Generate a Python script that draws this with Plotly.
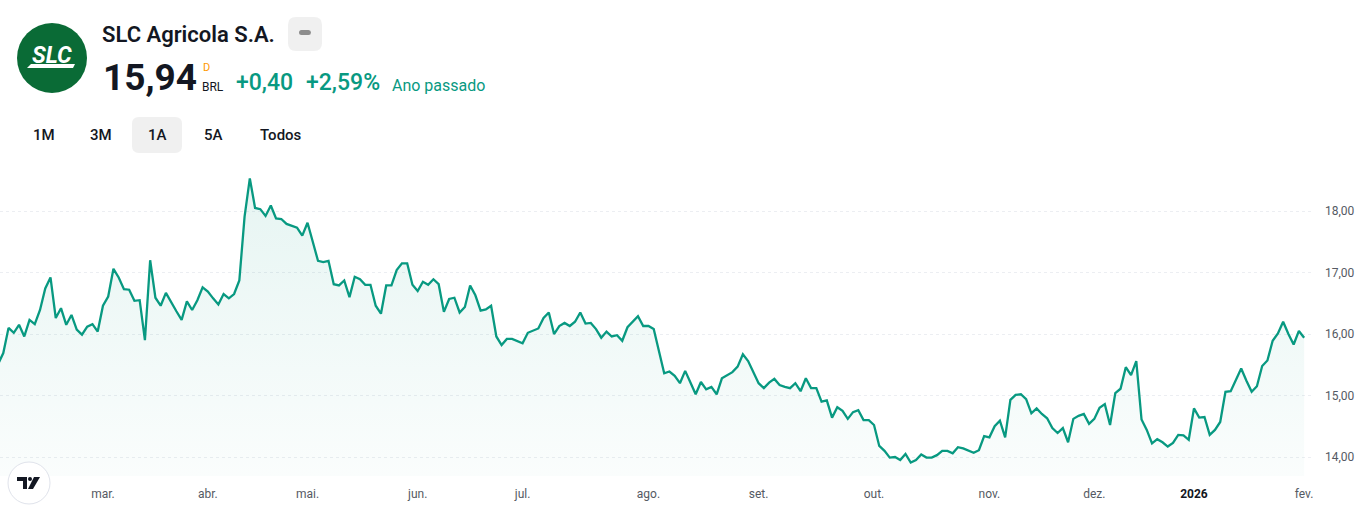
import plotly.graph_objects as go

# ---------------- data ----------------
close = [
    15.51, 15.69, 16.10, 16.02, 16.15, 15.96, 16.23, 16.16, 16.39, 16.74,
    16.92, 16.26, 16.42, 16.15, 16.31, 16.07, 15.99, 16.12, 16.16, 16.04,
    16.46, 16.61, 17.06, 16.92, 16.73, 16.72, 16.54, 16.55, 15.90, 17.20,
    16.59, 16.46, 16.67, 16.51, 16.37, 16.23, 16.53, 16.39, 16.55, 16.76,
    16.69, 16.58, 16.48, 16.65, 16.58, 16.65, 16.87, 17.91, 18.53, 18.05,
    18.03, 17.92, 18.09, 17.88, 17.87, 17.79, 17.76, 17.73, 17.60, 17.81,
    17.50, 17.19, 17.17, 17.19, 16.81, 16.79, 16.87, 16.60, 16.93, 16.89,
    16.80, 16.80, 16.46, 16.33, 16.79, 16.79, 17.04, 17.15, 17.15, 16.80,
    16.70, 16.85, 16.80, 16.89, 16.81, 16.36, 16.57, 16.59, 16.35, 16.44,
    16.79, 16.63, 16.38, 16.40, 16.46, 15.96, 15.82, 15.92, 15.92, 15.89,
    15.85, 16.02, 16.05, 16.09, 16.26, 16.35, 16.00, 16.13, 16.18, 16.13,
    16.20, 16.35, 16.17, 16.18, 16.08, 15.94, 16.04, 15.96, 15.98, 15.89,
    16.11, 16.20, 16.29, 16.13, 16.13, 16.08, 15.71, 15.36, 15.39, 15.32,
    15.20, 15.40, 15.21, 15.02, 15.22, 15.10, 15.14, 15.02, 15.28, 15.33,
    15.38, 15.47, 15.67, 15.56, 15.39, 15.20, 15.12, 15.21, 15.27, 15.17,
    15.14, 15.12, 15.20, 15.07, 15.28, 15.12, 15.12, 14.90, 14.92, 14.64,
    14.81, 14.75, 14.62, 14.73, 14.76, 14.60, 14.60, 14.52, 14.18, 14.10,
    13.99, 14.00, 13.95, 14.05, 13.91, 13.95, 14.04, 13.99, 13.99, 14.03,
    14.10, 14.10, 14.06, 14.16, 14.14, 14.10, 14.07, 14.11, 14.34, 14.32,
    14.50, 14.59, 14.32, 14.93, 15.01, 15.02, 14.94, 14.71, 14.79, 14.70,
    14.63, 14.47, 14.39, 14.47, 14.24, 14.62, 14.67, 14.70, 14.54, 14.62,
    14.80, 14.86, 14.52, 15.04, 15.11, 15.46, 15.33, 15.56, 14.61, 14.44,
    14.22, 14.29, 14.24, 14.17, 14.23, 14.36, 14.35, 14.28, 14.79, 14.64,
    14.65, 14.36, 14.44, 14.57, 15.06, 15.07, 15.25, 15.44, 15.24, 15.06,
    15.15, 15.48, 15.57, 15.89, 16.01, 16.20, 16.00, 15.83, 16.05, 15.94,
]
bar_index = list(range(len(close)))

month_labels = ["mar.", "abr.", "mai.", "jun.", "jul.", "ago.", "set.", "out.",
                "nov.", "dez.", "<b><span style='color:#131722'>2026</span></b>", "fev."]
month_bars = [20, 40, 59, 80, 100, 124, 145, 167, 189, 209, 228, 249]
price_ticks = [14, 15, 16, 17, 18]

company = "SLC Agricola S.A."
last_price = "15,94"
currency = "BRL"
change_abs = "+0,40"
change_pct = "+2,59%"
period_text = "Ano passado"
range_buttons = ["1M", "3M", "1A", "5A", "Todos"]

# ---------------- layout geometry ----------------
W, H = 1366, 512
ML, MR, MT, MB = 0, 54, 170, 36
PW, PH = W - ML - MR, H - MT - MB
x_range = [0.372, 250.5]
y_range = [13.691, 18.667]

TEAL = "#089981"
TXT = "#131722"


def X(px):
    return (px - ML) / PW


def Y(py):
    return (H - MB - py) / PH


def rrect(x0, y0, x1, y1, r):
    pts = [("M", [(x0 + r, y0)]), ("L", [(x1 - r, y0)]), ("Q", [(x1, y0), (x1, y0 + r)]),
           ("L", [(x1, y1 - r)]), ("Q", [(x1, y1), (x1 - r, y1)]), ("L", [(x0 + r, y1)]),
           ("Q", [(x0, y1), (x0, y1 - r)]), ("L", [(x0, y0 + r)]), ("Q", [(x0, y0), (x0 + r, y0)])]
    s = ""
    for cmd, ps in pts:
        s += cmd + " " + " ".join(f"{X(a):.5f},{Y(b):.5f}" for a, b in ps) + " "
    return s + "Z"


def poly(points):
    return "M " + " L ".join(f"{X(a):.5f},{Y(b):.5f}" for a, b in points) + " Z"


fig = go.Figure()
fig.add_trace(go.Scatter(
    x=bar_index, y=close, mode="lines",
    line=dict(color=TEAL, width=2.3),
    fill="tozeroy",
    fillgradient=dict(type="vertical",
                      colorscale=[[0, "rgba(8,153,129,0.02)"], [1, "rgba(8,153,129,0.10)"]],
                      start=y_range[0], stop=max(close)),
    hoverinfo="skip", showlegend=False,
))

shapes = []
# company logo
shapes.append(dict(type="circle", xref="paper", yref="paper",
                   x0=X(17), x1=X(87), y0=Y(93), y1=Y(23),
                   fillcolor="#0a6b36", line=dict(width=0), layer="above"))
shapes.append(dict(type="path", xref="paper", yref="paper",
                   path=poly([(31, 64), (75, 64), (73, 68), (27, 68)]),
                   fillcolor="white", line=dict(width=0), layer="above"))
# grey pill button next to name
shapes.append(dict(type="path", xref="paper", yref="paper",
                   path=rrect(288, 17, 322, 51, 8), fillcolor="#f0f0f0",
                   line=dict(width=0), layer="above"))
shapes.append(dict(type="path", xref="paper", yref="paper",
                   path=rrect(299, 30, 311, 35, 2.5), fillcolor="#8d8d8d",
                   line=dict(width=0), layer="above"))
# selected range button background
shapes.append(dict(type="path", xref="paper", yref="paper",
                   path=rrect(132, 117, 182, 153, 7), fillcolor="#f0f0f0",
                   line=dict(width=0), layer="below"))
# TradingView logo
shapes.append(dict(type="circle", xref="paper", yref="paper",
                   x0=X(8), x1=X(50), y0=Y(504), y1=Y(462),
                   fillcolor="white", line=dict(color="#e0e3eb", width=1), layer="above"))
shapes.append(dict(type="path", xref="paper", yref="paper",
                   path=poly([(17, 477), (27, 477), (27, 489), (23, 489), (23, 481), (17, 481)]),
                   fillcolor="#131722", line=dict(width=0), layer="above"))
shapes.append(dict(type="circle", xref="paper", yref="paper",
                   x0=X(28), x1=X(32), y0=Y(481), y1=Y(477),
                   fillcolor="#131722", line=dict(width=0), layer="above"))
shapes.append(dict(type="path", xref="paper", yref="paper",
                   path=poly([(34, 477), (40, 477), (33, 489), (28, 489)]),
                   fillcolor="#131722", line=dict(width=0), layer="above"))

FONT = "Roboto, 'Open Sans', sans-serif"
ann = []


def text(t, px, py, size, color=TXT, weight=None, xanchor="left", yanchor="middle"):
    f = dict(family=FONT, size=size, color=color)
    if weight:
        f["weight"] = weight
    ann.append(dict(text=t, x=X(px), y=Y(py), xref="paper", yref="paper",
                    xanchor=xanchor, yanchor=yanchor, showarrow=False, font=f))


text("<b><i>SLC</i></b>", 52, 55, 23, color="white", xanchor="center")
text(company, 100, 34, 22, weight=600)
text(last_price, 101, 78, 37, weight=700)
text("D", 201, 67, 11, color="#ff9800")
text(currency, 200, 87, 12)
text(change_abs, 234, 83, 23, color=TEAL, weight=500)
text(change_pct, 304, 83, 23, color=TEAL, weight=500)
text(period_text, 390, 85, 16, color=TEAL)
for lbl, cx in zip(range_buttons, [44, 101, 157, 213, 281]):
    text(lbl, cx, 135, 15, xanchor="center", weight=500)

fig.update_layout(
    width=W, height=H,
    margin=dict(l=ML, r=MR, t=MT, b=MB, pad=0),
    paper_bgcolor="white", plot_bgcolor="white",
    separators=",.",
    shapes=shapes, annotations=ann,
    xaxis=dict(range=x_range, tickmode="array", tickvals=month_bars, ticktext=month_labels,
               showgrid=False, zeroline=False, showline=False, ticks="",
               tickfont=dict(family=FONT, size=12, color="#555a63"), ticklabelstandoff=9,
               fixedrange=True),
    yaxis=dict(range=y_range, side="right", tickmode="array", tickvals=price_ticks,
               tickformat=".2f", showgrid=True, gridcolor="#eceef2", griddash="dot",
               gridwidth=1, zeroline=False, showline=False, ticks="",
               tickfont=dict(family=FONT, size=12, color="#555a63"), ticklabelstandoff=12,
               fixedrange=True),
    font=dict(family=FONT),
)

fig.write_html("out.html")
